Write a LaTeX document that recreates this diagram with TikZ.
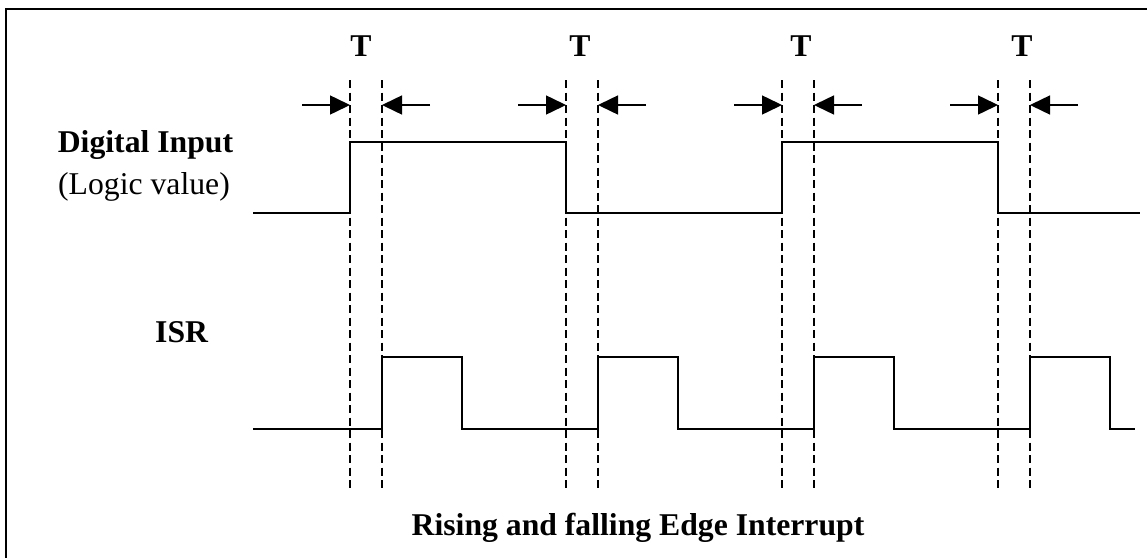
\documentclass[tikz,border=0pt]{standalone}
\usepackage{fontspec}
\setmainfont{Liberation Serif}
\usetikzlibrary{arrows.meta}
\begin{document}
\begin{tikzpicture}[x=1pt,y=-1pt,
  signal/.style={line width=1.5pt, line join=miter},
  guide/.style={line width=1.4pt, dash pattern=on 8pt off 4.5pt},
  gaparrow/.style={line width=1.5pt, -{Triangle[length=20pt,width=19pt]}},
  frame/.style={line width=2.6pt},
  lbl/.style={font=\fontsize{31.7}{36}\selectfont\bfseries, anchor=base, inner sep=0pt},
  rlbl/.style={font=\fontsize{31.7}{36}\selectfont, anchor=base, inner sep=0pt}]
\useasboundingbox (0,0) rectangle (1147,557);
% frame (top and left edges only)
\coordinate (fTL) at (6,9);
\coordinate (fTR) at (1150,9);
\coordinate (fBL) at (6,560);
\draw[frame] (fBL) -- (fTL) -- (fTR);
% labels
\node[lbl] (din) at (145.5,152) {Digital Input};
\node[rlbl] (logic) at (144,194) {(Logic value)};
\node[lbl, anchor=base west] (isr) at (155,342) {ISR};
\node[lbl] (title) at (638,535) {Rising and falling Edge Interrupt};
% dashed guides, T labels and arrows
\foreach \i/\xa/\xb/\xt in {1/350/382/361, 2/566/598/580, 3/782/814/801, 4/998/1030/1022}{
  \coordinate (a\i t) at (\xa,80);
  \coordinate (a\i b) at (\xa,489);
  \coordinate (b\i t) at (\xb,80);
  \coordinate (b\i b) at (\xb,489);
  \draw[guide] (a\i t) -- (a\i b);
  \draw[guide] (b\i t) -- (b\i b);
  \node[lbl] (T\i) at (\xt,56) {T};
  \coordinate (la\i) at ({\xa-48},105);
  \coordinate (ha\i) at (\xa,105);
  \coordinate (lb\i) at ({\xb+48},105);
  \coordinate (hb\i) at (\xb,105);
  \draw[gaparrow] (la\i) -- (ha\i);
  \draw[gaparrow] (lb\i) -- (hb\i);
}
% digital input waveform
\draw[signal] (253,213) -- (350,213) -- (350,142) -- (566,142) -- (566,213)
  -- (782,213) -- (782,142) -- (998,142) -- (998,213) -- (1140,213);
% ISR waveform
\draw[signal] (253,429) -- (382,429) -- (382,357) -- (462,357) -- (462,429)
  -- (598,429) -- (598,357) -- (678,357) -- (678,429)
  -- (814,429) -- (814,357) -- (894,357) -- (894,429)
  -- (1030,429) -- (1030,357) -- (1110,357) -- (1110,429) -- (1135,429);
\end{tikzpicture}
\end{document}
